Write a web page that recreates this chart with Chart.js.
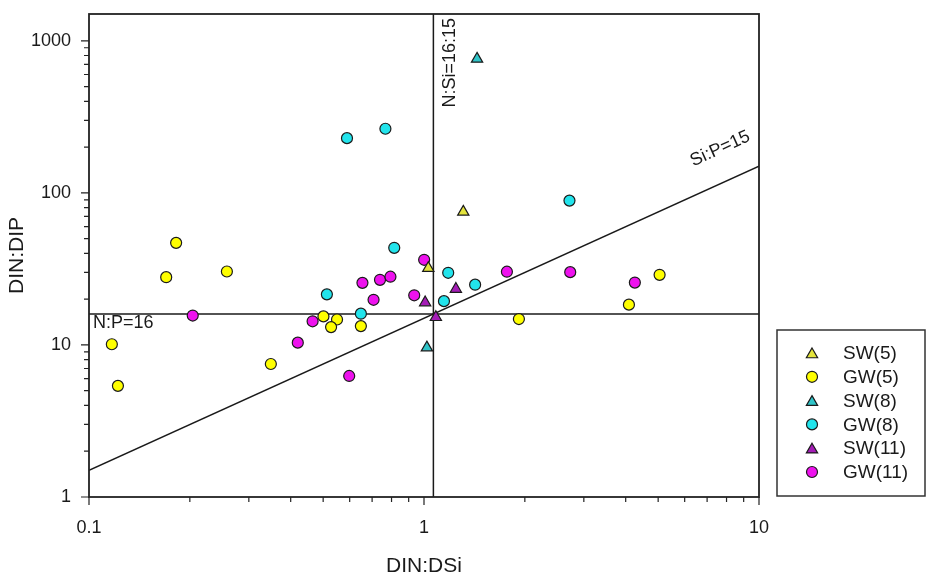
<!DOCTYPE html>
<html>
<head>
<meta charset="utf-8">
<script src="https://cdn.jsdelivr.net/npm/chart.js@4/dist/chart.umd.min.js"></script>
<style>
  html, body { margin: 0; padding: 0; background: #fff; }
</style>
</head>
<body>
<canvas id="chart" width="939" height="585"></canvas>
<script>
// Series: x = DIN:DSi, y = DIN:DIP
const seriesNames = ["SW(5)", "GW(5)", "SW(8)", "GW(8)", "SW(11)", "GW(11)"];

const sw5 = [{ x: 1.31, y: 75 }, { x: 1.03, y: 32 }];
const gw5 = [
  { x: 0.182, y: 46.9 }, { x: 0.170, y: 27.9 }, { x: 0.258, y: 30.4 },
  { x: 0.117, y: 10.1 }, { x: 0.122, y: 5.38 }, { x: 0.349, y: 7.49 },
  { x: 0.501, y: 15.4 }, { x: 0.550, y: 14.7 }, { x: 0.528, y: 13.1 },
  { x: 0.648, y: 13.3 }, { x: 1.92, y: 14.8 }, { x: 4.09, y: 18.4 },
  { x: 5.05, y: 28.9 },
];
const sw8 = [{ x: 1.44, y: 760 }, { x: 1.02, y: 9.6 }];
const gw8 = [
  { x: 0.589, y: 229 }, { x: 0.767, y: 264 }, { x: 0.815, y: 43.5 },
  { x: 0.513, y: 21.5 }, { x: 0.648, y: 16.05 }, { x: 1.181, y: 29.8 },
  { x: 1.421, y: 24.9 }, { x: 1.147, y: 19.4 }, { x: 2.718, y: 88.9 },
];
const sw11 = [{ x: 1.245, y: 23.3 }, { x: 1.008, y: 19.0 }, { x: 1.085, y: 15.2 }];
const gw11 = [
  { x: 1.001, y: 36.3 }, { x: 0.655, y: 25.6 }, { x: 0.739, y: 26.8 },
  { x: 0.794, y: 28.1 }, { x: 0.935, y: 21.2 }, { x: 0.707, y: 19.8 },
  { x: 0.465, y: 14.3 }, { x: 0.420, y: 10.35 }, { x: 0.598, y: 6.25 },
  { x: 0.204, y: 15.6 }, { x: 1.768, y: 30.3 }, { x: 2.732, y: 30.1 },
  { x: 4.26, y: 25.7 },
];

// Redfield reference lines
const npLine = [{ x: 0.1, y: 16 }, { x: 10, y: 16 }];
const nsiLine = [{ x: 16 / 15, y: 1 }, { x: 16 / 15, y: 1500 }];
const sipLine = [{ x: 0.1, y: 1.5 }, { x: 10, y: 150 }];

// Axes
const xMajor = [0.1, 1, 10];
const xLabels = ["0.1", "1", "10"];
const yMajor = [1, 10, 100, 1000];
const yLabels = ["1", "10", "100", "1000"];

const FONT = "'Liberation Sans', Arial, sans-serif";
const INK = "#1a1a1a";

// major + minor (2..9) tick list for a log axis
function withMinors(majors, maxVal) {
  const out = [];
  majors.forEach((m) => {
    out.push({ value: m, major: true });
    for (let k = 2; k <= 9; k++) {
      if (m * k < maxVal) out.push({ value: m * k, major: false });
    }
  });
  return out.sort((a, b) => a.value - b.value);
}

const styles = [
  { shape: "triangle", fill: "#e4e43c", r: 6.5 },
  { shape: "circle", fill: "#ffff00", r: 5.5 },
  { shape: "triangle", fill: "#30c4c8", r: 6.5 },
  { shape: "circle", fill: "#22e4ec", r: 5.5 },
  { shape: "triangle", fill: "#a41cb6", r: 6.5 },
  { shape: "circle", fill: "#ee12ee", r: 5.5 },
];
const seriesData = [sw5, gw5, sw8, gw8, sw11, gw11];

const pointSets = seriesData.map((d, i) => ({
  label: seriesNames[i],
  data: d,
  pointStyle: styles[i].shape,
  pointRadius: styles[i].r,
  pointBackgroundColor: styles[i].fill,
  pointBorderColor: INK,
  pointBorderWidth: 1.2,
  showLine: false,
}));

const refLine = (d) => ({
  data: d,
  showLine: true,
  borderColor: INK,
  borderWidth: 1.5,
  pointRadius: 0,
  fill: false,
});

function drawMarker(ctx, shape, x, y, r, fill) {
  ctx.beginPath();
  if (shape === "circle") {
    ctx.arc(x, y, r, 0, Math.PI * 2);
  } else {
    for (let k = 0; k < 3; k++) {
      const a = k * 2 * Math.PI / 3;
      const px = x + Math.sin(a) * r, py = y - Math.cos(a) * r;
      k === 0 ? ctx.moveTo(px, py) : ctx.lineTo(px, py);
    }
    ctx.closePath();
  }
  ctx.fillStyle = fill;
  ctx.fill();
  ctx.lineWidth = 1.2;
  ctx.strokeStyle = INK;
  ctx.stroke();
}

// frame, tick marks, line labels, legend box
const decorations = {
  id: "decorations",
  afterDraw(chart) {
    const { ctx, chartArea: a, scales } = chart;
    const xs = scales.x, ys = scales.y;
    ctx.save();

    ctx.strokeStyle = "#222";
    ctx.lineWidth = 1.8;
    ctx.strokeRect(a.left, a.top, a.right - a.left, a.bottom - a.top);

    ctx.lineWidth = 1.2;
    ctx.beginPath();
    xs.ticks.forEach((t) => {
      const px = xs.getPixelForValue(t.value);
      ctx.moveTo(px, a.bottom);
      ctx.lineTo(px, a.bottom + (t.major ? 8 : 5));
    });
    ys.ticks.forEach((t) => {
      const py = ys.getPixelForValue(t.value);
      ctx.moveTo(a.left, py);
      ctx.lineTo(a.left - (t.major ? 8 : 5), py);
    });
    ctx.stroke();

    ctx.fillStyle = INK;
    ctx.font = "18px " + FONT;

    // N:P=16
    ctx.textAlign = "left";
    ctx.textBaseline = "alphabetic";
    ctx.fillText("N:P=16", a.left + 4, ys.getPixelForValue(16) + 14);

    // N:Si=16:15 (vertical)
    ctx.save();
    ctx.translate(xs.getPixelForValue(16 / 15) + 22, a.top + 4);
    ctx.rotate(-Math.PI / 2);
    ctx.textAlign = "right";
    ctx.fillText("N:Si=16:15", 0, 0);
    ctx.restore();

    // Si:P=15 (along the slope line)
    const ang = Math.atan2(
      ys.getPixelForValue(150) - ys.getPixelForValue(1.5),
      xs.getPixelForValue(10) - xs.getPixelForValue(0.1)
    );
    ctx.save();
    ctx.translate(xs.getPixelForValue(7.66), ys.getPixelForValue(195));
    ctx.rotate(ang);
    ctx.textAlign = "center";
    ctx.textBaseline = "middle";
    ctx.fillText("Si:P=15", 0, 0);
    ctx.restore();

    // legend
    const lx = a.right + 18, ly = 330, lw = 148, lh = 166;
    ctx.lineWidth = 1.5;
    ctx.strokeStyle = "#333";
    ctx.strokeRect(lx, ly, lw, lh);
    ctx.font = "19px " + FONT;
    ctx.textAlign = "left";
    ctx.textBaseline = "middle";
    seriesNames.forEach((name, i) => {
      const cy = ly + 23 + i * 23.8;
      const s = styles[i];
      drawMarker(ctx, s.shape, lx + 35, cy + (s.shape === "triangle" ? 1.5 : 0), s.r, s.fill);
      ctx.fillStyle = INK;
      ctx.fillText(name, lx + 66, cy + 1);
    });

    ctx.restore();
  },
};

new Chart(document.getElementById("chart"), {
  type: "scatter",
  data: {
    datasets: [...pointSets, refLine(npLine), refLine(nsiLine), refLine(sipLine)],
  },
  options: {
    responsive: false,
    animation: false,
    layout: { padding: { top: 14, right: 180, left: 0, bottom: 0 } },
    plugins: { legend: { display: false }, tooltip: { enabled: false } },
    scales: {
      x: {
        type: "logarithmic",
        min: 0.1,
        max: 10,
        afterBuildTicks: (scale) => { scale.ticks = withMinors(xMajor, 10.5); },
        afterFit: (scale) => {
          scale.height = 88;
          scale.paddingLeft = 0;
          scale.paddingRight = 0;
        },
        grid: { display: false, drawTicks: false },
        border: { display: false },
        ticks: {
          autoSkip: false,
          maxRotation: 0,
          padding: 20,
          color: INK,
          font: { family: FONT, size: 18 },
          callback: (v) => {
            const i = xMajor.indexOf(v);
            return i >= 0 ? xLabels[i] : "";
          },
        },
        title: {
          display: true,
          text: "DIN:DSi",
          color: INK,
          font: { family: FONT, size: 21 },
          padding: { top: 0, bottom: 6 },
        },
      },
      y: {
        type: "logarithmic",
        min: 1,
        max: 1500,
        afterBuildTicks: (scale) => { scale.ticks = withMinors(yMajor, 1001); },
        afterFit: (scale) => {
          scale.width = 89;
          scale.paddingTop = 0;
          scale.paddingBottom = 0;
        },
        grid: { display: false, drawTicks: false },
        border: { display: false },
        ticks: {
          autoSkip: false,
          padding: 18,
          color: INK,
          font: { family: FONT, size: 18 },
          callback: (v) => {
            const i = yMajor.indexOf(v);
            return i >= 0 ? yLabels[i] : "";
          },
        },
        title: {
          display: true,
          text: "DIN:DIP",
          color: INK,
          font: { family: FONT, size: 21 },
          padding: { top: 5, bottom: 0 },
        },
      },
    },
  },
  plugins: [decorations],
});
</script>
</body>
</html>
